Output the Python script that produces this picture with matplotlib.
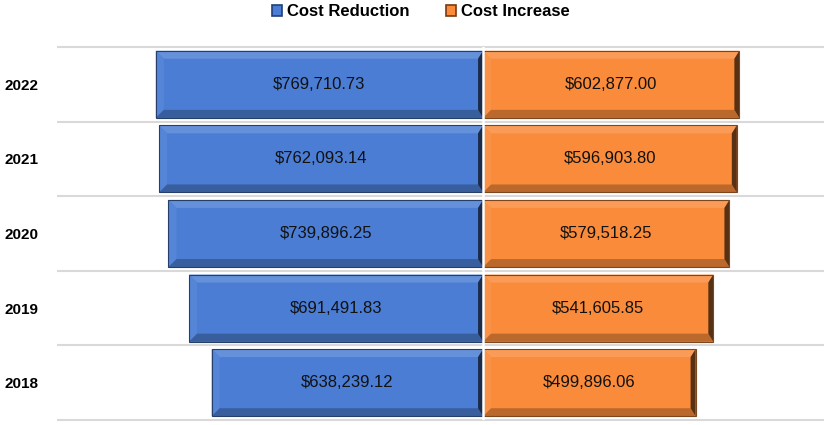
import numpy as np
import matplotlib.pyplot as plt
from matplotlib.patches import Polygon, Rectangle
import matplotlib.colors as mcolors

years = ['2018', '2019', '2020', '2021', '2022']
cost_reduction = [638239.12, 691491.83, 739896.25, 762093.14, 769710.73]
cost_increase = [499896.06, 541605.85, 579518.25, 596903.80, 602877.00]

blue = '#4a7dd3'
orange = '#f98b3a'

plt.rcParams['font.family'] = ['Liberation Sans', 'DejaVu Sans']

fig = plt.figure(figsize=(8.29, 4.25), dpi=100)
ax = fig.add_axes([0.0688, 0.0118, 0.9252, 0.8776])

xmin, xmax = -1002000, 802000
ax.set_xlim(xmin, xmax)
ax.set_ylim(-0.5, len(years) - 0.5)

h = 0.9
y = np.arange(len(years))

# px -> data conversion for the bevel
px_x = (xmax - xmin) / (0.9252 * 829)
px_y = len(years) / (0.8776 * 425)


def shade(c, f):
    r, g, b = mcolors.to_rgb(c)
    if f > 1:
        return (r + (1 - r) * (f - 1), g + (1 - g) * (f - 1), b + (1 - b) * (f - 1))
    return (r * f, g * f, b * f)


def bevel_bar(x0, x1, yc, color):
    y0, y1 = yc - h / 2, yc + h / 2
    ax.add_patch(Rectangle((x0, y0), x1 - x0, y1 - y0, facecolor=color,
                           edgecolor='none', zorder=2))
    dx = 8 * px_x
    dy = 8 * px_y
    dxr = 5 * px_x
    top = [(x0, y1), (x1, y1), (x1 - dxr, y1 - dy), (x0 + dx, y1 - dy)]
    bot = [(x0, y0), (x1, y0), (x1 - dxr, y0 + dy), (x0 + dx, y0 + dy)]
    left = [(x0, y0), (x0, y1), (x0 + dx, y1 - dy), (x0 + dx, y0 + dy)]
    right = [(x1, y0), (x1, y1), (x1 - dxr, y1 - dy), (x1 - dxr, y0 + dy)]
    ax.add_patch(Polygon(top, closed=True, facecolor=shade(color, 1.15), edgecolor='none', zorder=3))
    ax.add_patch(Polygon(left, closed=True, facecolor=shade(color, 1.06), edgecolor='none', zorder=3))
    ax.add_patch(Polygon(bot, closed=True, facecolor=shade(color, 0.75), edgecolor='none', zorder=3))
    ax.add_patch(Polygon(right, closed=True, facecolor=shade(color, 0.35), edgecolor='none', zorder=3))
    ax.add_patch(Rectangle((x0, y0), x1 - x0, y1 - y0, facecolor='none',
                           edgecolor=shade(color, 0.5), lw=0.8, zorder=4))


for i in range(len(years)):
    bevel_bar(-cost_reduction[i], 0, y[i], blue)
    bevel_bar(0, cost_increase[i], y[i], orange)
    ax.text(-cost_reduction[i] / 2, y[i], '${:,.2f}'.format(cost_reduction[i]),
            ha='center', va='center', fontsize=12, color='#111111', zorder=5)
    ax.text(cost_increase[i] / 2, y[i], '${:,.2f}'.format(cost_increase[i]),
            ha='center', va='center', fontsize=12, color='#111111', zorder=5)

ax.axvline(0, color='white', lw=1.8, zorder=4.5)
ax.hlines(np.arange(len(years) + 1) - 0.5, xmin, xmax, color='#d9d9d9', lw=1.5,
          zorder=1, clip_on=False)

ax.set_yticks(y)
ax.set_yticklabels(years, fontsize=11, fontweight='bold')
ax.tick_params(axis='y', length=0, pad=38)
for lab in ax.get_yticklabels():
    lab.set_horizontalalignment('left')
ax.set_xticks([])
for s in ax.spines.values():
    s.set_visible(False)

handles = [Rectangle((0, 0), 1, 1, facecolor=blue, edgecolor='#1f3f7a', lw=1.2),
           Rectangle((0, 0), 1, 1, facecolor=orange, edgecolor='#7a3a10', lw=1.2)]
fig.legend(handles, ['Cost Reduction', 'Cost Increase'], loc='center',
           bbox_to_anchor=(0.508, 0.972), ncol=2, frameon=False,
           prop={'weight': 'bold', 'size': 12}, handlelength=0.6, handleheight=0.6,
           handletextpad=0.3, columnspacing=2.2)

fig.savefig('out.png', dpi=100)
